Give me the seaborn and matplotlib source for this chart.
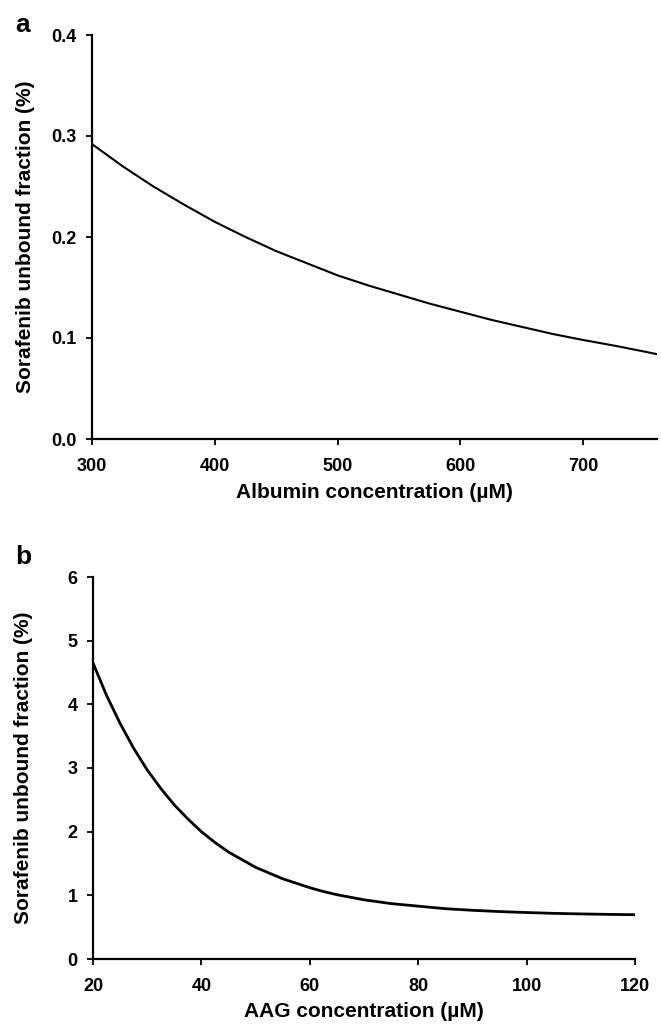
import matplotlib
matplotlib.use("Agg")
import matplotlib.pyplot as plt
import seaborn as sns
import pandas as pd

# Panel a : albumine
albumin_conc = [300, 325, 350, 375, 400, 425, 450, 475, 500, 525, 550, 575, 600,
                625, 650, 675, 700, 725, 750, 760]
albumin_fu = [0.292, 0.270, 0.250, 0.232, 0.215, 0.200, 0.186, 0.174, 0.162, 0.152,
              0.143, 0.134, 0.126, 0.118, 0.111, 0.104, 0.098, 0.0925, 0.0865, 0.084]
albumin_xticks = [300, 400, 500, 600, 700]
albumin_yticks = [0.0, 0.1, 0.2, 0.3, 0.4]

# Panel b : AAG
aag_conc = [20, 22.5, 25, 27.5, 30, 32.5, 35, 37.5, 40, 42.5, 45, 47.5, 50, 52.5, 55,
            57.5, 60, 62.5, 65, 67.5, 70, 72.5, 75, 77.5, 80, 85, 90, 95, 100, 105,
            110, 115, 120]
aag_fu = [4.65, 4.14, 3.70, 3.31, 2.97, 2.68, 2.42, 2.20, 2.00, 1.83, 1.68, 1.56, 1.44,
          1.35, 1.26, 1.19, 1.12, 1.06, 1.01, 0.97, 0.93, 0.90, 0.87, 0.85, 0.83, 0.79,
          0.765, 0.745, 0.73, 0.717, 0.708, 0.701, 0.696]
aag_xticks = [20, 40, 60, 80, 100, 120]
aag_yticks = [0, 1, 2, 3, 4, 5, 6]

sns.set_style("ticks")
plt.rcParams["font.family"] = ["Liberation Sans", "DejaVu Sans"]
plt.rcParams["text.color"] = "black"
plt.rcParams["axes.labelcolor"] = "black"

W, H = 661, 1027
fig = plt.figure(figsize=(W / 100, H / 100), dpi=100)


def make_axes(left, right, top, bottom):
    return fig.add_axes([left / W, 1 - bottom / H, (right - left) / W, (bottom - top) / H])


def style_axes(ax):
    sns.despine(ax=ax)
    for side in ["left", "bottom"]:
        ax.spines[side].set_linewidth(1.6)
        ax.spines[side].set_color("black")
    ax.tick_params(axis="both", direction="out", length=4, width=1.3, colors="black",
                   labelsize=13)
    ax.tick_params(axis="x", pad=10)
    ax.tick_params(axis="y", pad=7)
    for lbl in ax.get_xticklabels() + ax.get_yticklabels():
        lbl.set_fontweight("bold")


# Panel a
ax1 = make_axes(92, 657, 35, 439)
df_a = pd.DataFrame({"x": albumin_conc, "y": albumin_fu})
sns.lineplot(data=df_a, x="x", y="y", ax=ax1, color="black", linewidth=1.5)
ax1.set_xlim(300, 760)
ax1.set_ylim(0, 0.4)
ax1.set_xticks(albumin_xticks)
ax1.set_yticks(albumin_yticks)
ax1.set_yticklabels([f"{v:.1f}" for v in albumin_yticks])
ax1.set_xlabel("Albumin concentration (µM)", fontsize=15, fontweight="bold")
ax1.set_ylabel("Sorafenib unbound fraction (%)", fontsize=15, fontweight="bold")
style_axes(ax1)
ax1.xaxis.set_label_coords(0.5, -0.108)
ax1.yaxis.set_label_coords(-0.101, 0.5)

# Panel b
ax2 = make_axes(93, 635, 577, 959)
df_b = pd.DataFrame({"x": aag_conc, "y": aag_fu})
sns.lineplot(data=df_b, x="x", y="y", ax=ax2, color="black", linewidth=2.0)
ax2.set_xlim(20, 120)
ax2.set_ylim(0, 6)
ax2.set_xticks(aag_xticks)
ax2.set_yticks(aag_yticks)
ax2.set_xlabel("AAG concentration (µM)", fontsize=15, fontweight="bold")
ax2.set_ylabel("Sorafenib unbound fraction (%)", fontsize=15, fontweight="bold")
style_axes(ax2)
ax2.xaxis.set_label_coords(0.5, -0.112)
ax2.yaxis.set_label_coords(-0.111, 0.5)

fig.text(15 / W, 1 - 25 / H, "a", fontsize=19, fontweight="bold", va="center", ha="left")
fig.text(15 / W, 1 - 557 / H, "b", fontsize=19, fontweight="bold", va="center", ha="left")

fig.savefig("out.png", dpi=100)
